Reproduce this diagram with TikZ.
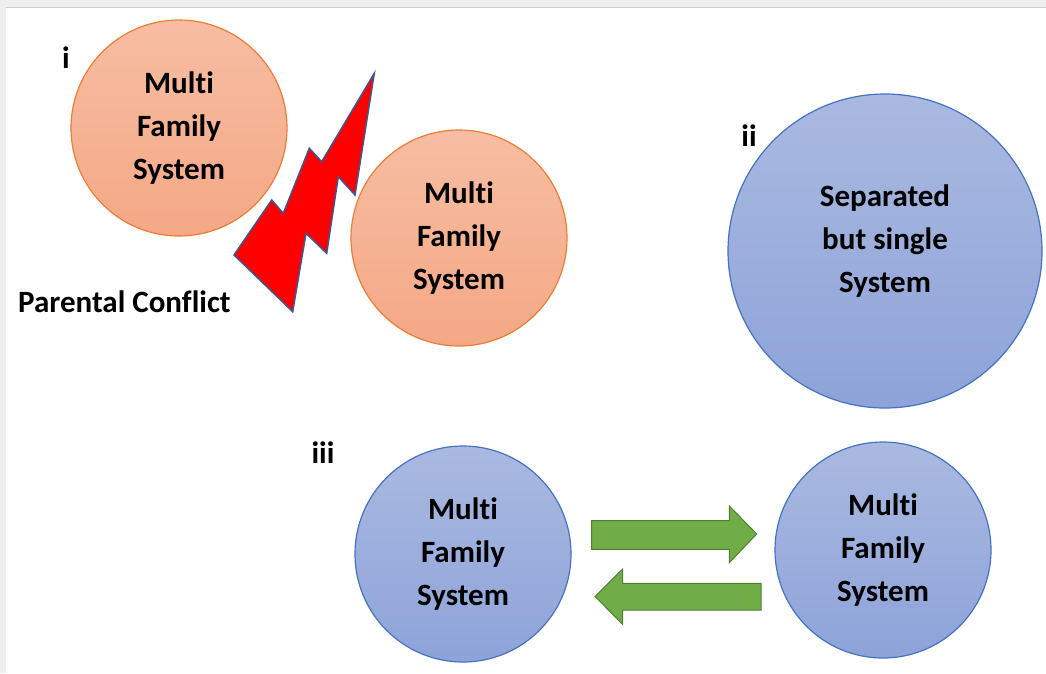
\documentclass[tikz,border=0pt]{standalone}
\usepackage{fontspec}
\setmainfont[Ligatures=NoCommon]{Carlito}
\definecolor{orfillT}{HTML}{F7BDA2}
\definecolor{orfillB}{HTML}{F4A886}
\definecolor{ordraw}{HTML}{ED7D31}
\definecolor{blfillT}{HTML}{AAB9E0}
\definecolor{blfillB}{HTML}{8DA3D9}
\definecolor{bldraw}{HTML}{4472C4}
\definecolor{grfill}{HTML}{70AD47}
\definecolor{grdraw}{HTML}{507E32}
\definecolor{boltdraw}{HTML}{3A5896}
\definecolor{framegray}{HTML}{EEEEEE}
\begin{document}
\begin{tikzpicture}[x=1pt,y=-1pt,
  every node/.style={font=\fontsize{31}{43}\selectfont\bfseries},
  orcirc/.style={circle,draw=ordraw,line width=1.2pt,top color=orfillT,bottom color=orfillB,minimum size=216pt,inner sep=0pt,align=center},
  blcirc/.style={circle,draw=bldraw,line width=1.2pt,top color=blfillT,bottom color=blfillB,inner sep=0pt,align=center},
  bigarrow/.style={fill=grfill,draw=grdraw,line width=1pt,line join=miter},
  lbl/.style={inner sep=0pt,anchor=center}]
\useasboundingbox (0,0) rectangle (1046,673);
\fill[white] (0,0) rectangle (1046,673);
\fill[framegray] (0,0) rectangle (1046,7);
\fill[framegray] (0,0) rectangle (6,673);
\draw[gray!40,line width=0.8pt] (6,7.5) -- (1046,7.5);

% i
\node[orcirc] (c1) at (179,128) {Multi\\Family\\System};
\node[orcirc] (c2) at (459,238) {Multi\\Family\\System};
\node[lbl] (li) at (66,58) {i};
\node[lbl,anchor=west] (pc) at (18,302) {Parental Conflict};
\draw[fill=red,draw=boltdraw,line width=1.5pt,line join=miter]
  (374.3,73.3) -- (355,195) -- (338.3,176.7) -- (326.7,253.3) -- (306,233.3)
  -- (292.7,311.7) -- (234,255) -- (271.7,200) -- (283.3,213.3)
  -- (309.3,148.3) -- (321.7,161.7) -- cycle;

% ii
\node[blcirc,minimum size=314pt] (c3) at (885,251) {};
\node[lbl,align=center] (t3) at (885,241) {Separated\\but single\\System};
\node[lbl] (lii) at (749,136) {ii};

% iii
\node[blcirc,minimum size=216pt] (c4) at (463,554) {Multi\\Family\\System};
\node[blcirc,minimum size=216pt] (c5) at (883,550) {Multi\\Family\\System};
\node[lbl] (liii) at (323,453) {iii};

\draw[bigarrow] (591.7,520.7) -- (729.3,520.7) -- (729.3,506) -- (756.7,534)
  -- (729.3,562.7) -- (729.3,549.3) -- (591.7,549.3) -- cycle;
\draw[bigarrow] (761,583.3) -- (622.7,583.3) -- (622.7,569) -- (595,596.5)
  -- (622.7,624.3) -- (622.7,610) -- (761,610) -- cycle;
\end{tikzpicture}
\end{document}
